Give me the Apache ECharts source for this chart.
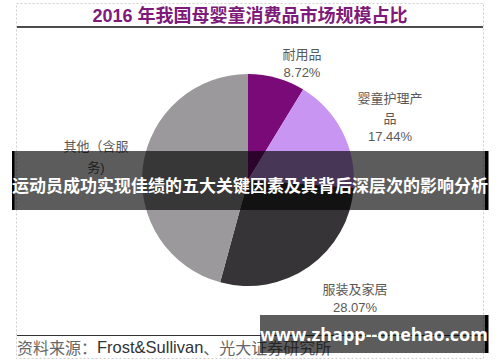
<!DOCTYPE html>
<html><head><meta charset="utf-8">
<script src="https://cdn.jsdelivr.net/npm/echarts@6/dist/echarts.min.js"></script>
<style>html,body{margin:0;padding:0;background:#fff;}#c{width:500px;height:362px;}</style>
</head><body><div id="c"></div>
<script>
const titleText = '2016 年我国母婴童消费品市场规模占比';
const categories = ['耐用品', '婴童护理产品', '服装及家居', '其他（含服务)'];
const values = [8.72, 17.44, 28.07, 45.77];
const labelLines = [['耐用品'], ['婴童护理产', '品'], ['服装及家居'], ['其他（含服', '务)']];
const showPct = [true, true, true, false];
const colors = ['#7a0a78', '#c896f2', '#363436', '#9b999b'];
const sourceText = ['资料来源：', 'Frost&Sullivan', '、光大证券研究所'];
const bannerText = '运动员成功实现佳绩的五大关键因素及其背后深层次的影响分析';
const watermarkText = 'www.zhapp--onehao.com';

const labelPos = [[302, 63], [390, 116], [355, 298.5], [96, 155]];

const chart = echarts.init(document.getElementById('c'), null, {renderer: 'svg'});
const F = '"Liberation Sans", "Noto Sans CJK SC", sans-serif';
chart.setOption({
  backgroundColor: '#ffffff',
  animation: false,
  series: [{
    type: 'pie',
    center: [248, 180],
    radius: 106,
    startAngle: 90,
    clockwise: true,
    silent: true,
    data: categories.map((n, i) => ({
      name: n, value: values[i],
      itemStyle: {color: colors[i]}
    })),
    label: {
      show: true,
      position: 'outside',
      color: '#595959',
      fontFamily: F,
      fontSize: 13,
      lineHeight: 18,
      formatter: p => {
        const i = p.dataIndex;
        const lines = labelLines[i].slice();
        let s = lines.map((l, k) => (i === 1 && k === 0) ? '{g|' + l + '}' : (i === 3 && k === 0 ? '{h|' + l + '}' : l)).join('\n');
        if (showPct[i]) s += '\n' + values[i].toFixed(2) + '%';
        return s;
      },
      rich: {
        g: {fontSize: 13, lineHeight: 22, color: '#595959', fontFamily: F},
        h: {fontSize: 13, lineHeight: 25, color: '#595959', fontFamily: F}
      }
    },
    labelLine: {show: false},
    labelLayout: p => ({x: labelPos[p.dataIndex][0], y: labelPos[p.dataIndex][1], align: 'center', verticalAlign: 'middle'})
  }],
  graphic: [
    {type: 'rect', z: 1, shape: {x: 16.5, y: 3.5, width: 467, height: 355}, style: {fill: 'none', stroke: '#cfcfcf', lineWidth: 1, lineDash: [2, 2]}},
    {type: 'text', z: 2, x: 250, y: 16, style: {text: titleText, fill: '#7d1a7b', font: 'bold 18px "Liberation Sans", "Noto Sans CJK SC", sans-serif', align: 'center', verticalAlign: 'middle'}},
    {type: 'line', z: 2, shape: {x1: 17, y1: 27, x2: 483, y2: 27}, style: {stroke: '#111', lineWidth: 1.5}},
    {type: 'line', z: 2, shape: {x1: 17, y1: 335.5, x2: 483, y2: 335.5}, style: {stroke: '#333', lineWidth: 1.2}},
    {type: 'text', z: 2, x: 17, y: 347, style: {
      text: '{a|' + sourceText[0] + '}{b|' + sourceText[1] + '}{a|' + sourceText[2] + '}',
      verticalAlign: 'middle',
      rich: {
        a: {fill: '#666', font: '16px "Noto Sans CJK SC", sans-serif'},
        b: {fill: '#333', font: '16.5px "Liberation Sans", sans-serif'}
      }
    }},
    {type: 'rect', z: 100, shape: {x: 12, y: 151, width: 473, height: 59}, style: {fill: 'rgba(0,0,0,0.64)'}},
    {type: 'rect', z: 101, shape: {x: 12, y: 151, width: 2.5, height: 59}, style: {fill: '#000'}},
    {type: 'rect', z: 101, shape: {x: 485, y: 151, width: 3.5, height: 59}, style: {fill: '#000'}},
    {type: 'text', z: 102, x: 250, y: 184, style: {text: bannerText, fill: '#fff', font: 'bold 17px "Noto Sans CJK SC", sans-serif', align: 'center', verticalAlign: 'middle'}},
    {type: 'rect', z: 100, shape: {x: 260, y: 315, width: 225, height: 38}, style: {fill: 'rgba(0,0,0,0.64)'}},
    {type: 'rect', z: 101, shape: {x: 485, y: 315, width: 3.5, height: 38}, style: {fill: '#000'}},
    {type: 'text', z: 102, x: 374, y: 334, style: {text: watermarkText, fill: '#fff', font: 'bold 18px "Open Sans", "Noto Sans", sans-serif', align: 'center', verticalAlign: 'middle'}}
  ]
});
</script>
</body></html>
